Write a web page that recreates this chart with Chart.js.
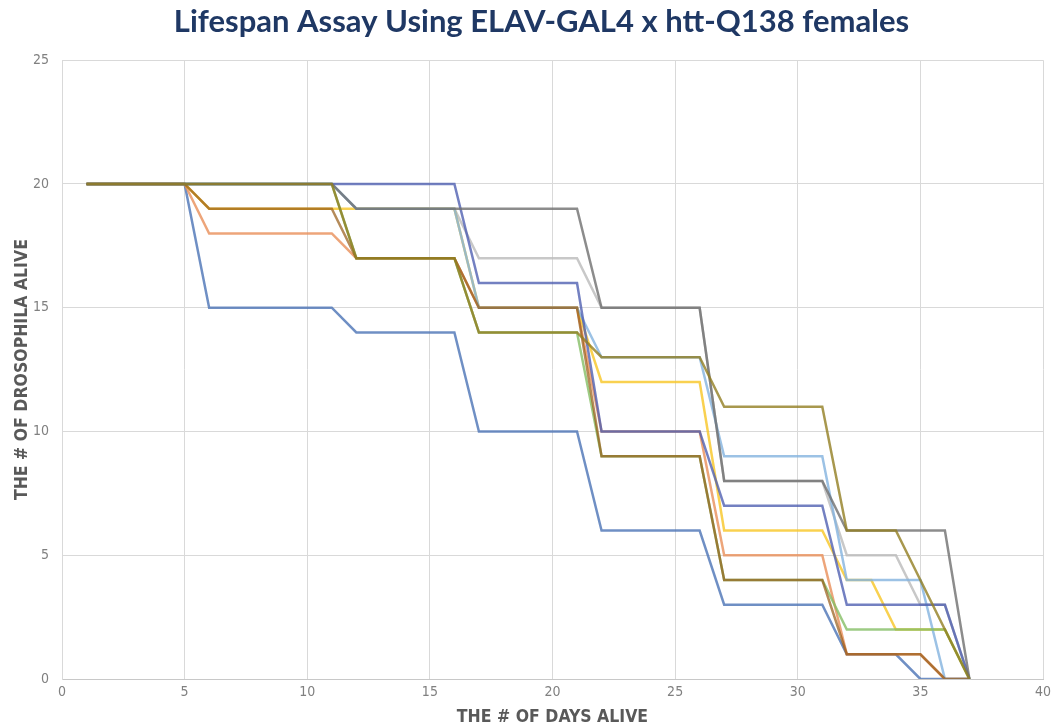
<!DOCTYPE html>
<html>
<head>
<meta charset="utf-8">
<title>Lifespan Assay</title>
<script src="https://cdn.jsdelivr.net/npm/chart.js@4/dist/chart.umd.min.js"></script>
<style>
  html, body { margin: 0; padding: 0; background: #ffffff; }
  #wrap { width: 1057px; height: 728px; }
</style>
</head>
<body>
<div id="wrap"><canvas id="c" width="1057" height="728"></canvas></div>
<script>
// Census days (x values shared by every vial)
const days = [1, 5, 6, 11, 12, 16, 17, 21, 22, 26, 27, 31, 32, 33, 34, 35, 36, 37];

// Flies alive in each vial on the census days above
const vial1  = [20, 20, 15, 15, 14, 14, 10, 10,  6,  6,  3,  3, 1, 1, 1, 0, 0, 0];
const vial2  = [20, 20, 18, 18, 17, 17, 15, 15, 10, 10,  5,  5, 1, 1, 1, 1, 0, 0];
const vial3  = [20, 20, 20, 20, 19, 19, 17, 17, 15, 15,  8,  8, 5, 5, 5, 3, 3, 0];
const vial4  = [20, 20, 19, 19, 19, 19, 15, 15, 12, 12,  6,  6, 4, 4, 2, 2, 2, 0];
const vial5  = [20, 20, 20, 20, 19, 19, 15, 15, 13, 13,  9,  9, 4, 4, 4, 4, 0, 0];
const vial6  = [20, 20, 20, 20, 17, 17, 14, 14,  9,  9,  4,  4, 2, 2, 2, 2, 2, 0];
const vial7  = [20, 20, 20, 20, 20, 20, 16, 16, 10, 10,  7,  7, 3, 3, 3, 3, 3, 0];
const vial8  = [20, 20, 19, 19, 17, 17, 15, 15,  9,  9,  4,  4, 1, 1, 1, 1, 0, 0];
const vial9  = [20, 20, 20, 20, 19, 19, 19, 19, 15, 15,  8,  8, 6, 6, 6, 6, 6, 0];
const vial10 = [20, 20, 20, 20, 17, 17, 14, 14, 13, 13, 11, 11, 6, 6, 6, 4, 2, 0];

const vials = [vial1, vial2, vial3, vial4, vial5, vial6, vial7, vial8, vial9, vial10];

// Axis tick values
const xTicks = [0, 5, 10, 15, 20, 25, 30, 35, 40];
const yTicks = [0, 5, 10, 15, 20, 25];

// Soft series colours, slightly transparent so overlapping lines blend
const colors = ['rgba(75,115,181,0.8)', 'rgba(232,142,89,0.8)', 'rgba(186,186,186,0.8)',
                'rgba(247,197,36,0.8)', 'rgba(131,179,223,0.8)', 'rgba(132,190,101,0.8)',
                'rgba(75,92,175,0.78)', 'rgba(150,90,20,0.7)', 'rgba(111,111,111,0.8)',
                'rgba(146,126,34,0.8)'];

const datasets = vials.map((vals, i) => ({
  label: 'Vial ' + (i + 1),
  data: days.map((d, k) => ({ x: d, y: vals[k] })),
  showLine: true,
  borderColor: colors[i],
  backgroundColor: colors[i],
  borderWidth: 2.5,
  pointRadius: 0,
  tension: 0,
  fill: false,
  order: vials.length - i
}));

const tickFont = { family: "'Liberation Sans Narrow', 'DejaVu Sans Condensed', sans-serif", size: 14 };
const axisTitleFont = { family: "'DejaVu Sans Condensed', 'Liberation Sans Narrow', sans-serif", size: 17.5, weight: 'bold' };

// Centre the chart title over the region right of the y-axis label column
const titleShift = {
  id: 'titleShift',
  afterLayout(chart) {
    const t = chart.titleBlock;
    if (t) { t.left = 40; t.width = t.right - t.left; }
  }
};

new Chart(document.getElementById('c'), {
  type: 'scatter',
  data: { datasets },
  plugins: [titleShift],
  options: {
    responsive: false,
    devicePixelRatio: 1,
    animation: false,
    layout: { padding: { left: 0, right: 14, top: 0, bottom: 0 } },
    plugins: {
      legend: { display: false },
      tooltip: { enabled: false },
      title: {
        display: true,
        text: 'Lifespan Assay Using ELAV-GAL4 x htt-Q138 females',
        color: '#1f3864',
        font: { family: "Lato, 'Open Sans', sans-serif", size: 31, weight: 'bold', lineHeight: 1.2 },
        padding: { top: 3, bottom: 20 }
      }
    },
    scales: {
      x: {
        type: 'linear',
        min: 0, max: 40,
        afterBuildTicks: s => { s.ticks = xTicks.map(v => ({ value: v })); },
        afterFit: s => { s.height = 49; },
        grid: { color: '#d9d9d9', lineWidth: 1, drawTicks: false },
        border: { color: '#c8c8c8', width: 1 },
        ticks: { color: '#808080', font: tickFont, padding: 5, maxRotation: 0 },
        title: {
          display: true,
          text: 'THE # OF DAYS ALIVE',
          color: '#595959',
          font: axisTitleFont,
          padding: { top: 0, bottom: 0 }
        }
      },
      y: {
        type: 'linear',
        min: 0, max: 25,
        afterBuildTicks: s => { s.ticks = yTicks.map(v => ({ value: v })); },
        afterFit: s => { s.width = 62; },
        grid: { color: '#d9d9d9', lineWidth: 1, drawTicks: false },
        border: { color: '#d9d9d9', width: 1 },
        ticks: { color: '#808080', font: tickFont, padding: 13 },
        title: {
          display: true,
          text: 'THE # OF DROSOPHILA ALIVE',
          color: '#595959',
          font: axisTitleFont,
          padding: { top: 11.5, bottom: 0 }
        }
      }
    }
  }
});
</script>
</body>
</html>
